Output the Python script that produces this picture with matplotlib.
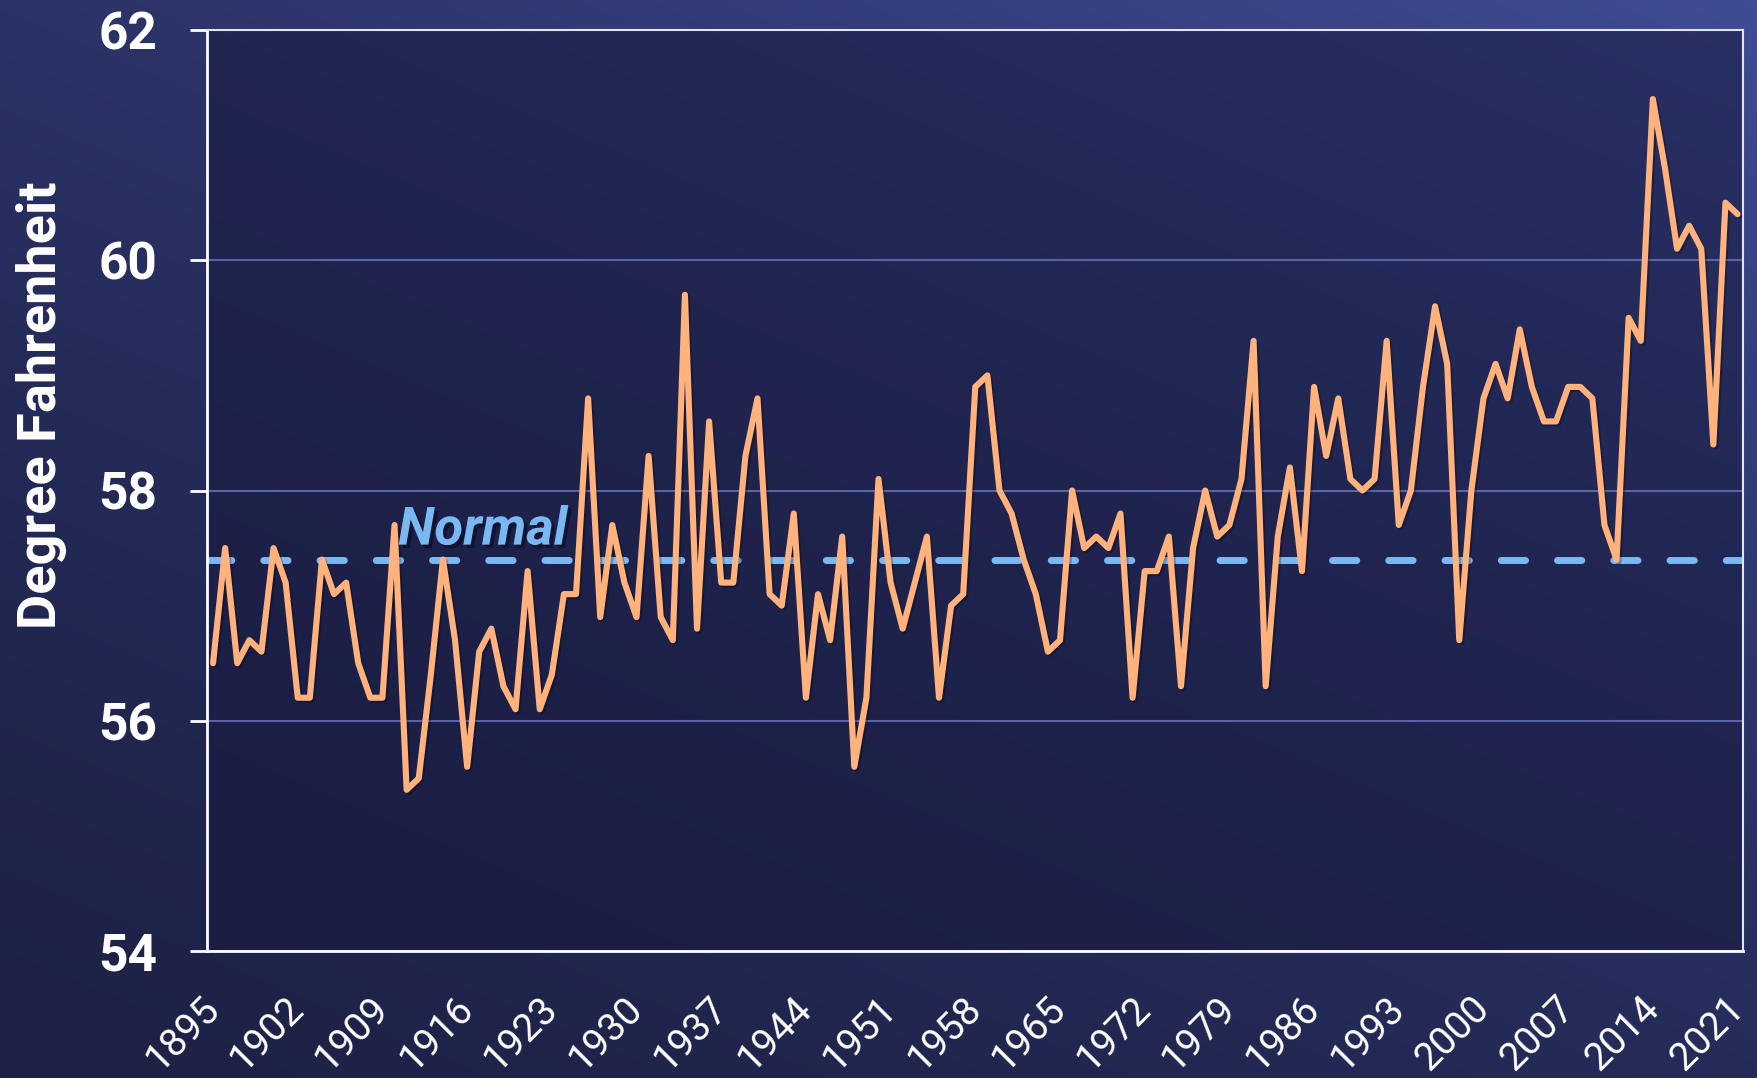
import numpy as np
import matplotlib
matplotlib.use("Agg")
import matplotlib.pyplot as plt
import matplotlib.patheffects as pe
from matplotlib.colors import LinearSegmentedColormap
from matplotlib.transforms import ScaledTranslation

plt.rcParams['font.family'] = ['Roboto', 'DejaVu Sans']

years = list(range(1895, 2022))
temps = [
    56.5, 57.5, 56.5, 56.7, 56.6, 57.5, 57.2, 56.2, 56.2, 57.4,   # 1895-1904
    57.1, 57.2, 56.5, 56.2, 56.2, 57.7, 55.4, 55.5, 56.4, 57.4,   # 1905-1914
    56.7, 55.6, 56.6, 56.8, 56.3, 56.1, 57.3, 56.1, 56.4, 57.1,   # 1915-1924
    57.1, 58.8, 56.9, 57.7, 57.2, 56.9, 58.3, 56.9, 56.7, 59.7,   # 1925-1934
    56.8, 58.6, 57.2, 57.2, 58.3, 58.8, 57.1, 57.0, 57.8, 56.2,   # 1935-1944
    57.1, 56.7, 57.6, 55.6, 56.2, 58.1, 57.2, 56.8, 57.2, 57.6,   # 1945-1954
    56.2, 57.0, 57.1, 58.9, 59.0, 58.0, 57.8, 57.4, 57.1, 56.6,   # 1955-1964
    56.7, 58.0, 57.5, 57.6, 57.5, 57.8, 56.2, 57.3, 57.3, 57.6,   # 1965-1974
    56.3, 57.5, 58.0, 57.6, 57.7, 58.1, 59.3, 56.3, 57.6, 58.2,   # 1975-1984
    57.3, 58.9, 58.3, 58.8, 58.1, 58.0, 58.1, 59.3, 57.7, 58.0,   # 1985-1994
    58.9, 59.6, 59.1, 56.7, 58.0, 58.8, 59.1, 58.8, 59.4, 58.9,   # 1995-2004
    58.6, 58.6, 58.9, 58.9, 58.8, 57.7, 57.4, 59.5, 59.3, 61.4,   # 2005-2014
    60.8, 60.1, 60.3, 60.1, 58.4, 60.5, 60.4                      # 2015-2021
]
normal_value = 57.4
normal_label = "Normal"
y_ticks = [54, 56, 58, 60, 62]
x_ticks = years[::7]
y_label = "Degree Fahrenheit"

fig = plt.figure(figsize=(17.57, 10.78), dpi=100)

# background gradient
bg = fig.add_axes([0, 0, 1, 1], zorder=-10)
bg.set_axis_off()
h, w = 200, 330
u = np.linspace(0, 1, w)[None, :]
v = np.linspace(1, 0, h)[:, None]
s = np.clip(0.45 * u + 0.65 * v, 0, 1.1) / 1.1
s = s ** 1.3
cmap = LinearSegmentedColormap.from_list("bg", ["#1d2145", "#2b3266", "#3f4b94"])
bg.imshow(s, cmap=cmap, aspect='auto', extent=[0, 1, 0, 1], interpolation='bicubic')
bg.set_xlim(0, 1)
bg.set_ylim(0, 1)

ax = fig.add_axes([207 / 1757, 1 - 951 / 1078, (1743 - 207) / 1757, (951 - 30) / 1078])
ax.set_facecolor((0.09, 0.10, 0.24, 0.55))

ax.plot(years, temps, color='#ffb27c', lw=4.4, solid_joinstyle='round',
        solid_capstyle='round', zorder=3,
        path_effects=[pe.SimpleLineShadow(offset=(1.5, -1.5), alpha=0.25), pe.Normal()])
ax.axhline(normal_value, color='#7ab8f3', lw=5, dashes=(3.5, 4.6),
           dash_capstyle='round', zorder=2)
ax.text(1910.3, 57.53, normal_label, color='#7ab8f3', fontsize=38,
        fontweight='bold', fontstyle='italic', ha='left', va='baseline', zorder=4,
        path_effects=[pe.SimplePatchShadow(offset=(2.5, -2.5), shadow_rgbFace='#0a0c20', alpha=0.6), pe.Normal()])

ax.set_xlim(1894.5, 2021.45)
ax.set_ylim(54, 62)
ax.set_yticks(y_ticks)
ax.grid(axis='y', color='#5b63a8', lw=1.5)
ax.set_axisbelow(True)

ax.tick_params(axis='y', colors='white', labelsize=37, length=12, width=2, pad=24)
ax.tick_params(axis='x', colors='white', labelsize=28, length=0, pad=0)
ax.set_xticks(x_ticks)
ax.set_xticklabels([str(x) for x in x_ticks], rotation=45, ha='right',
                   va='baseline', rotation_mode='anchor')
for lab in ax.get_yticklabels():
    lab.set_fontweight('bold')
# anchor of each rotated label relative to its tick on the bottom axis
offset = ScaledTranslation(8 / 100, -59 / 100, fig.dpi_scale_trans)
for lab in ax.get_xticklabels():
    lab.set_transform(ax.get_xaxis_transform() + offset)
for sp in ax.spines.values():
    sp.set_color('white')
    sp.set_linewidth(2)
for sp in ['top', 'right']:
    ax.spines[sp].set_color('#e0e3f0')
    ax.spines[sp].set_linewidth(1.5)

ax.set_ylabel(y_label, color='white', fontsize=39, fontweight='bold')
ax.yaxis.set_label_coords(-0.091, 0.593)

fig.savefig("out.png", dpi=100)
